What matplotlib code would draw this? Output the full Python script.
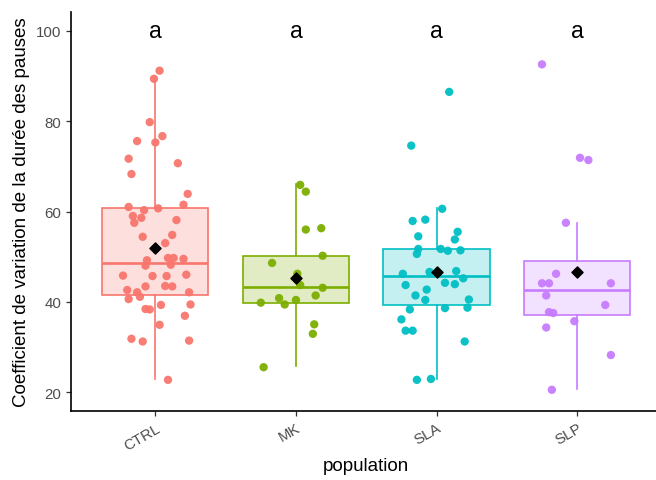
import matplotlib
matplotlib.use("Agg")
import matplotlib.pyplot as plt

plt.rcParams['font.family'] = ['Liberation Sans', 'DejaVu Sans']

populations = ["CTRL", "MK", "SLA", "SLP"]
colors = ["#F8766D", "#7CAE00", "#00BFC4", "#C77CFF"]
letters = ["a", "a", "a", "a"]

# box statistics
q1 = [41.4, 39.8, 39.3, 37.1]
med = [48.6, 43.2, 45.8, 42.5]
q3 = [60.7, 50.2, 51.7, 49.0]
whislo = [22.9, 25.7, 22.9, 20.6]
whishi = [89.6, 66.1, 60.7, 57.4]
means = [52.0, 45.2, 46.6, 46.6]

# individual values and their jitter (in category units)
ctrl_y = [91.2, 89.4, 79.8, 76.7, 75.6, 75.3, 71.7, 70.7, 68.3, 63.9, 61.5, 61.0,
          60.3, 60.7, 59.0, 58.6, 57.5, 58.1, 54.8, 54.4, 53.0, 49.2, 48.0, 49.7,
          49.7, 49.5, 48.2, 45.8, 45.7, 45.7, 46.0, 43.4, 43.5, 43.4, 42.6, 42.1,
          41.1, 40.6, 42.1, 39.3, 39.4, 38.4, 38.3, 36.9, 34.9, 31.8, 31.2, 31.4, 22.7]
ctrl_j = [0.03, -0.01, -0.04, 0.05, -0.13, 0.00, -0.19, 0.16, -0.17, 0.23, 0.20, -0.19,
          -0.08, 0.02, -0.16, -0.10, -0.15, 0.15, 0.12, -0.09, 0.07, -0.06, -0.07, 0.09,
          0.13, 0.20, 0.11, -0.23, -0.02, 0.08, 0.22, -0.07, 0.07, 0.12, -0.20, -0.13,
          -0.11, -0.19, 0.24, 0.04, 0.25, -0.07, -0.04, 0.21, 0.03, -0.17, -0.09, 0.24, 0.09]
mk_y = [65.9, 64.4, 56.0, 56.3, 50.2, 48.6, 46.2, 43.7, 43.1, 41.4, 40.8, 39.4,
        40.4, 39.8, 35.0, 32.9, 25.5]
mk_j = [0.03, 0.07, 0.07, 0.18, 0.19, -0.17, 0.01, 0.03, 0.19, 0.14, -0.12, -0.08,
        0.00, -0.25, 0.13, 0.12, -0.23]
sla_y = [86.5, 74.6, 60.6, 57.9, 58.2, 55.5, 54.5, 53.8, 51.7, 50.6, 51.7, 51.3,
         51.4, 46.2, 46.6, 46.8, 45.2, 43.7, 44.2, 43.9, 42.7, 41.4, 40.4, 40.5,
         38.7, 38.6, 38.3, 36.1, 33.6, 33.6, 31.2, 22.7, 22.9]
sla_j = [0.09, -0.18, 0.04, -0.17, -0.08, 0.15, -0.13, 0.13, -0.13, -0.14, 0.03, 0.08,
         0.17, -0.24, -0.05, 0.14, 0.19, -0.22, 0.06, 0.13, -0.07, -0.15, -0.08, 0.23,
         0.22, 0.06, -0.19, -0.25, -0.22, -0.17, 0.20, -0.14, -0.04]
slp_y = [92.6, 71.9, 71.4, 57.5, 46.2, 44.1, 44.1, 44.1, 41.4, 39.3, 37.7, 37.5,
         35.7, 34.3, 28.2, 20.5]
slp_j = [-0.25, 0.02, 0.08, -0.08, -0.15, -0.25, -0.20, 0.24, -0.22, 0.20, -0.20, -0.17,
         -0.02, -0.22, 0.24, -0.18]

values = [ctrl_y, mk_y, sla_y, slp_y]
jitters = [ctrl_j, mk_j, sla_j, slp_j]

fig = plt.figure(figsize=(6.56, 4.81), dpi=100)
ax = fig.add_axes([71 / 656, 1 - 412 / 481, 590.5 / 656, 399 / 481])

for i, c in enumerate(colors):
    pos = i + 1
    stats = [dict(q1=q1[i], med=med[i], q3=q3[i], whislo=whislo[i], whishi=whishi[i])]
    ax.bxp(stats, positions=[pos], widths=0.755, showfliers=False, showcaps=False,
           patch_artist=True,
           boxprops=dict(facecolor=c + "3a", edgecolor=c, linewidth=1.2),
           whiskerprops=dict(color=c, linewidth=1.2),
           medianprops=dict(color=c, linewidth=1.9))
    xs = [pos + j for j in jitters[i]]
    ax.scatter(xs, values[i], s=36, color=c, alpha=0.95, edgecolors="none", zorder=3)
    ax.scatter([pos], [means[i]], marker="D", s=32, color="black", zorder=4)
    ax.text(pos, 100, letters[i], ha="center", va="center", fontsize=16.5, color="black")

ax.set_xlim(0.4, 4.6)
ax.set_ylim(15.8, 104.2)
ax.set_yticks([20, 40, 60, 80, 100])
ax.set_xticks(range(1, 5))
ax.set_xticklabels(populations, rotation=30, ha="right", rotation_mode="anchor")
ax.tick_params(axis="both", colors="#333333", labelcolor="#4D4D4D", labelsize=10.8,
               length=3.5, width=0.9)
for s in ["top", "right"]:
    ax.spines[s].set_visible(False)
for s in ["left", "bottom"]:
    ax.spines[s].set_color("black")
    ax.spines[s].set_linewidth(1.2)

ax.set_xlabel("population", fontsize=13.5, color="black", labelpad=3)
ax.set_ylabel("Coefficient de variation de la durée des pauses", fontsize=13.5,
              color="black", labelpad=4)

fig.savefig("out.png", dpi=100)
